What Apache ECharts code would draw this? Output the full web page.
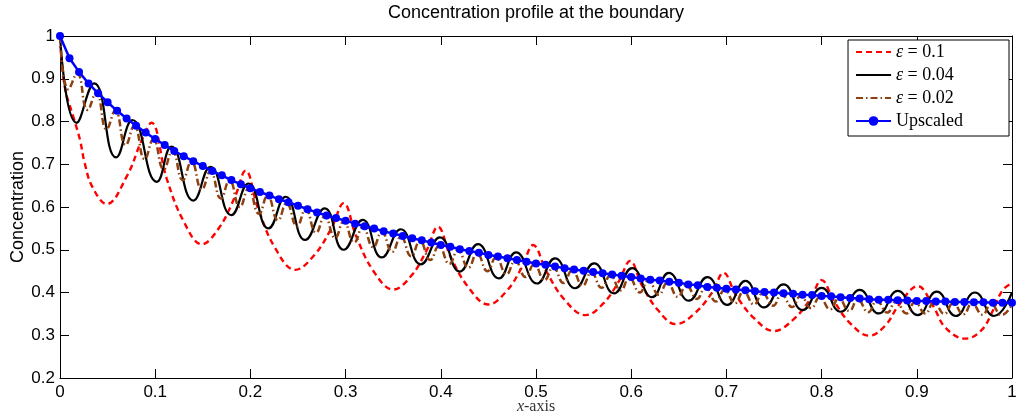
<!DOCTYPE html>
<html><head><meta charset="utf-8">
<script src="https://cdn.jsdelivr.net/npm/echarts@6/dist/echarts.min.js"></script>
<style>html,body{margin:0;padding:0;background:#fff}#c{width:1017px;height:419px}</style>
</head><body><div id="c"></div>
<script>
const titleText = 'Concentration profile at the boundary';
const xAxisName = '{i|x}-axis';
const yAxisName = 'Concentration';
const xTickLabels = ['0','0.1','0.2','0.3','0.4','0.5','0.6','0.7','0.8','0.9','1'];
const yTickLabels = ['0.2','0.3','0.4','0.5','0.6','0.7','0.8','0.9','1'];
const seriesNames = ['ε = 0.1', 'ε = 0.04', 'ε = 0.02', 'Upscaled'];

// epsilon = 0.1 (red dashed)
const eps01 = [[0,1.0],[0.005,0.881],[0.014,0.811],[0.021,0.757],[0.026,0.702],[0.034,0.647],[0.049,0.607],
[0.070,0.671],[0.086,0.757],[0.096,0.797],[0.112,0.667],[0.130,0.566],[0.149,0.513],
[0.167,0.551],[0.184,0.625],[0.195,0.685],[0.208,0.597],[0.226,0.504],[0.247,0.453],
[0.267,0.487],[0.285,0.550],[0.298,0.609],[0.311,0.532],[0.329,0.451],[0.350,0.407],
[0.369,0.439],[0.385,0.498],[0.397,0.554],[0.410,0.485],[0.429,0.412],[0.450,0.372],
[0.469,0.403],[0.485,0.458],[0.497,0.511],[0.511,0.449],[0.530,0.383],[0.552,0.347],
[0.571,0.375],[0.587,0.426],[0.599,0.474],[0.611,0.418],[0.628,0.359],[0.647,0.326],
[0.667,0.352],[0.685,0.400],[0.697,0.446],[0.710,0.394],[0.729,0.340],[0.750,0.310],
[0.770,0.336],[0.788,0.384],[0.800,0.429],[0.813,0.380],[0.830,0.328],[0.850,0.299],
[0.867,0.323],[0.881,0.370],[0.901,0.415],[0.917,0.369],[0.930,0.318],[0.951,0.292],
[0.968,0.312],[0.980,0.358],[0.990,0.405],[1.0,0.422]];

// epsilon = 0.04 (black solid)
const eps004 = [[0,1.0],[0.0175,0.797],[0.036,0.889],[0.059,0.716],[0.076,0.8035],[0.1016,0.659],[0.117,0.741],
[0.140,0.615],[0.158,0.694],[0.180,0.581],[0.198,0.655],[0.219,0.550],[0.237,0.624],[0.2575,0.523],[0.278,0.597],
[0.298,0.500],[0.318,0.570],[0.338,0.482],[0.358,0.548],[0.379,0.466],[0.399,0.529],[0.420,0.449],[0.439,0.513],
[0.461,0.433],[0.479,0.494],[0.501,0.421],[0.520,0.480],[0.541,0.410],[0.561,0.468],[0.582,0.398],[0.601,0.457],
[0.622,0.389],[0.6395,0.446],[0.6606,0.381],[0.680,0.436],[0.701,0.371],[0.720,0.427],[0.7395,0.365],[0.760,0.419],
[0.780,0.359],[0.800,0.411],[0.820,0.355],[0.840,0.406],[0.860,0.351],[0.880,0.404],[0.901,0.347],[0.921,0.402],
[0.941,0.345],[0.961,0.400],[0.981,0.345],[1.0,0.400]];

// epsilon = 0.02 (brown dash-dot)
const eps002 = [[0,1.0],[0.009,0.875],[0.018,0.912],[0.029,0.827],[0.038,0.868],[0.049,0.782],[0.058,0.825],
[0.069,0.745],[0.078,0.790],[0.089,0.712],[0.098,0.758],[0.109,0.688],[0.118,0.731],[0.129,0.663],[0.138,0.706],
[0.149,0.641],[0.158,0.683],[0.169,0.620],[0.178,0.662],[0.189,0.600],[0.198,0.643],[0.209,0.584],[0.218,0.626],
[0.229,0.569],[0.238,0.609],[0.249,0.555],[0.258,0.594],[0.269,0.540],[0.278,0.578],[0.289,0.528],[0.298,0.566],
[0.309,0.517],[0.318,0.553],[0.329,0.506],[0.338,0.541],[0.349,0.495],[0.358,0.530],[0.369,0.485],[0.378,0.520],
[0.389,0.476],[0.398,0.509],[0.409,0.467],[0.418,0.499],[0.429,0.458],[0.438,0.491],[0.449,0.450],[0.458,0.482],
[0.469,0.443],[0.478,0.474],[0.489,0.436],[0.498,0.466],[0.509,0.429],[0.518,0.459],[0.529,0.422],[0.538,0.452],
[0.549,0.416],[0.558,0.446],[0.569,0.411],[0.578,0.440],[0.589,0.405],[0.598,0.434],[0.609,0.400],[0.618,0.428],
[0.629,0.395],[0.638,0.423],[0.649,0.390],[0.658,0.417],[0.669,0.385],[0.678,0.411],[0.689,0.379],[0.698,0.406],
[0.709,0.375],[0.718,0.402],[0.729,0.372],[0.738,0.398],[0.749,0.369],[0.758,0.395],[0.769,0.366],[0.778,0.392],
[0.789,0.363],[0.798,0.389],[0.809,0.361],[0.818,0.386],[0.829,0.357],[0.838,0.383],[0.849,0.354],[0.858,0.380],
[0.869,0.353],[0.878,0.379],[0.889,0.351],[0.898,0.377],[0.909,0.351],[0.918,0.376],[0.929,0.350],[0.938,0.375],
[0.949,0.349],[0.958,0.374],[0.969,0.348],[0.978,0.373],[0.989,0.347],[1.0,0.372]];

// Upscaled (blue with markers), sampled every 0.01
const upscaledY = [1.000,0.948,0.916,0.889,0.866,0.845,0.825,0.807,0.790,0.774,
0.759,0.745,0.731,0.719,0.707,0.696,0.684,0.674,0.663,0.653,
0.644,0.635,0.627,0.618,0.611,0.603,0.595,0.587,0.580,0.574,
0.568,0.561,0.555,0.550,0.543,0.538,0.532,0.527,0.522,0.517,
0.511,0.507,0.501,0.497,0.493,0.488,0.484,0.480,0.476,0.472,
0.468,0.465,0.461,0.457,0.454,0.451,0.448,0.445,0.442,0.439,
0.436,0.433,0.430,0.428,0.425,0.423,0.419,0.417,0.413,0.411,
0.409,0.407,0.405,0.403,0.401,0.400,0.398,0.397,0.395,0.394,
0.392,0.391,0.389,0.387,0.386,0.384,0.383,0.383,0.382,0.381,
0.380,0.380,0.379,0.379,0.378,0.378,0.377,0.377,0.376,0.376,0.376];
const upscaledX = upscaledY.map((_, i) => i / 100);
const upscaled = upscaledX.map((x, i) => [x, upscaledY[i]]);

const sans = 'Liberation Sans';
const serif = 'Liberation Serif';
const chart = echarts.init(document.getElementById('c'), null, {renderer: 'canvas'});
const axisCommon = {
  type: 'value', min: 0, max: 1, interval: 0.1,
  axisLine: {show: true, onZero: false, lineStyle: {color: '#000', width: 1}},
  axisTick: {show: true, inside: true, length: 9, lineStyle: {color: '#000', width: 1}},
  splitLine: {show: false}
};
chart.setOption({
  animation: false,
  backgroundColor: '#fff',
  title: {
    text: titleText, left: 536, top: 4, padding: 0, textAlign: 'center',
    textStyle: {fontFamily: sans, fontSize: 18, fontWeight: 'normal', color: '#000'}
  },
  grid: {left: 60, right: 5, top: 36, bottom: 41, containLabel: false, outerBoundsMode: 'none'},
  legend: {
    data: [
      {name: seriesNames[0], itemStyle: {opacity: 0}},
      {name: seriesNames[1], itemStyle: {opacity: 0}},
      {name: seriesNames[2], itemStyle: {opacity: 0}},
      {name: seriesNames[3]}
    ],
    orient: 'vertical', right: 8, top: 40,
    itemWidth: 35, itemHeight: 12, itemGap: 5,
    padding: [3, 46, 6, 7],
    borderColor: '#000', borderWidth: 1, backgroundColor: '#fff',
    formatter: n => n.replace('ε', '{e|ε}'),
    textStyle: {fontFamily: serif, fontSize: 18, lineHeight: 18, color: '#000',
      rich: {e: {fontFamily: serif, fontSize: 18, fontStyle: 'italic', color: '#000'}}}
  },
  xAxis: [
    Object.assign({}, axisCommon, {
      position: 'bottom',
      name: xAxisName, nameLocation: 'middle', nameGap: 21, nameMoveOverlap: false,
      nameTextStyle: {fontFamily: serif, fontSize: 16, color: '#333',
        rich: {i: {fontFamily: serif, fontSize: 16, fontStyle: 'italic', color: '#333'}}},
      axisLabel: {fontFamily: sans, fontSize: 17, color: '#000', margin: 6,
        formatter: v => xTickLabels[Math.round(v * 10)]}
    }),
    Object.assign({}, axisCommon, {position: 'top', axisLabel: {show: false}})
  ],
  yAxis: [
    Object.assign({}, axisCommon, {
      min: 0.2, max: 1, position: 'left',
      name: yAxisName, nameLocation: 'middle', nameGap: 33, nameRotate: 90, nameMoveOverlap: false,
      nameTextStyle: {fontFamily: sans, fontSize: 18, color: '#000'},
      axisLabel: {fontFamily: sans, fontSize: 17, color: '#000', margin: 5,
        formatter: v => yTickLabels[Math.round(v * 10) - 2]}
    }),
    Object.assign({}, axisCommon, {min: 0.2, max: 1, position: 'right', axisLabel: {show: false}})
  ],
  series: [
    {name: seriesNames[0], type: 'line', data: eps01, smooth: 0.4, symbol: 'none',
      lineStyle: {color: '#ff0000', width: 2.4, type: [6, 4]}, itemStyle: {color: '#ff0000'}, z: 2},
    {name: seriesNames[1], type: 'line', data: eps004, smooth: 0.5, symbol: 'none',
      lineStyle: {color: '#000', width: 2.2, type: 'solid'}, itemStyle: {color: '#000'}, z: 3},
    {name: seriesNames[2], type: 'line', data: eps002, smooth: 0.5, symbol: 'none',
      lineStyle: {color: '#8f4010', width: 2.5, type: [7, 3, 1.5, 3]}, itemStyle: {color: '#8f4010'}, z: 4},
    {name: seriesNames[3], type: 'line', data: upscaled, smooth: false, symbol: 'circle', symbolSize: 8,
      showSymbol: true, lineStyle: {color: '#0000ff', width: 2.5}, itemStyle: {color: '#0000ff'}, z: 5}
  ]
});
</script></body></html>
